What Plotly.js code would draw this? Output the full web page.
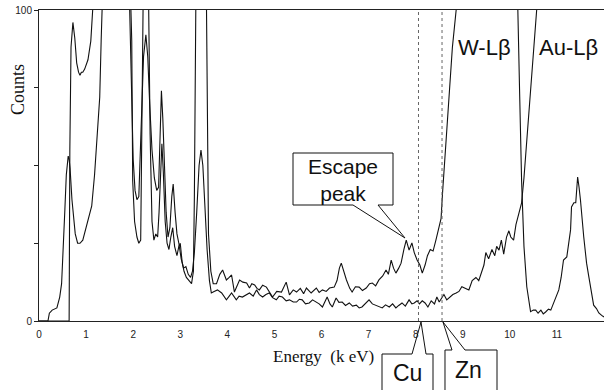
<!DOCTYPE html>
<html>
<head>
<meta charset="utf-8">
<script src="https://cdn.plot.ly/plotly-3.0.1.min.js"></script>
<style>html,body{margin:0;padding:0;background:#fff;}#chart{width:605px;height:390px;}</style>
</head>
<body>
<div id="chart"></div>
<script>
// Spectrum A (W / Au sample: escape peak, off-scale 8.9-10.1 keV, Au-Lβ at 11.44 keV)
const energyA = [0,0.64,0.655,0.68,0.72,0.76,0.80,0.84,0.87,0.90,
0.93,0.97,1.04,1.10,1.14,1.20,1.90,1.95,1.97,1.99,
2.03,2.08,2.12,2.16,2.19,2.21,2.23,2.31,2.33,2.36,
2.40,2.44,2.48,2.52,2.55,2.58,2.61,2.64,2.68,2.72,
2.76,2.80,2.84,2.88,2.93,2.97,3.00,3.04,3.08,3.13,
3.18,3.24,3.28,3.30,3.33,3.35,3.54,3.56,3.60,3.65,
3.70,3.77,3.84,3.90,3.98,4.04,4.09,4.15,4.20,4.26,
4.33,4.41,4.47,4.52,4.58,4.63,4.68,4.75,4.83,4.90,
4.96,5.05,5.15,5.25,5.32,5.40,5.47,5.55,5.62,5.68,
5.78,5.89,5.95,6.02,6.10,6.17,6.27,6.33,6.38,6.42,
6.47,6.53,6.60,6.65,6.72,6.80,6.87,6.95,7.02,7.08,
7.15,7.22,7.30,7.37,7.42,7.48,7.53,7.58,7.64,7.69,
7.75,7.80,7.86,7.92,7.97,8.03,8.09,8.14,8.20,8.25,
8.31,8.37,8.43,8.50,8.54,8.57,8.63,8.70,8.78,8.86,
8.95,10.10,10.17,10.21,10.25,10.30,10.36,10.44,10.50,10.55,
10.60,10.66,10.71,10.76,10.82,10.87,10.93,10.98,11.04,11.09,
11.14,11.21,11.26,11.29,11.31,11.36,11.40,11.44,11.47,11.50,
11.57,11.63,11.68,11.72,11.78,11.84,11.89,11.95,12.00];
const countsA = [0,0,55,88,96,91,83,80,79,80,
80,81,84,90,100,130,130,105,90,45,
32,27,25,26,60,100,130,130,100,60,
32,26,28,27,35,50,57,48,32,25,
23,27,30,24,21,24,25,19,16,14,
13,12,16,40,100,130,130,100,28,16,
12,12,15,16.4,13.2,14,14.8,9.3,11,13.2,
12.5,12.2,10.6,12,11.6,10.5,10,11.5,10.9,9,
7.7,9.5,9.3,12.5,8.4,10,9.3,10.5,8.8,10.6,
9.0,10.6,9.2,10,9.5,10.6,10.9,13,17,18.6,
16,13.2,10.5,9.3,11,10.9,9.8,10.6,12,12.2,
11.3,13.2,14.5,16.4,15,19.6,17,15.4,17,18.6,
23,26,22.8,25.1,22,19.6,18,15.4,18,21,
23,22.5,26,30,33,41,55,71,88,100,
130,130,100,72,45,24,11,3,3.5,3.5,
2.5,3.5,2.3,2.9,3.8,3.5,5.8,7.5,10,14,
19.6,20.6,26,29.3,36.7,38,38,46.3,43,38.9,
27,18.6,14,10,5.1,4,2.6,1.8,1.3];

// Spectrum B (low background, rises off-scale above 10.6 keV)
const energyB = [0,0.19,0.22,0.28,0.38,0.44,0.48,0.50,0.52,0.55,
0.58,0.60,0.62,0.64,0.66,0.70,0.74,0.77,0.82,0.87,
0.93,1.00,1.06,1.12,1.18,1.24,1.29,1.32,1.35,1.40,
1.88,1.93,1.97,2.00,2.04,2.08,2.12,2.15,2.18,2.22,
2.27,2.31,2.35,2.40,2.45,2.50,2.54,2.57,2.60,2.63,
2.67,2.70,2.74,2.78,2.82,2.85,2.89,2.93,2.97,3.02,
3.07,3.12,3.17,3.22,3.26,3.30,3.35,3.40,3.44,3.48,
3.52,3.57,3.62,3.66,3.72,3.79,3.88,3.98,4.04,4.09,
4.19,4.25,4.32,4.40,4.47,4.55,4.62,4.68,4.75,4.82,
4.89,4.96,5.04,5.10,5.17,5.25,5.32,5.40,5.47,5.53,
5.59,5.66,5.74,5.81,5.89,5.95,6.02,6.07,6.12,6.18,
6.23,6.31,6.37,6.44,6.51,6.59,6.66,6.74,6.80,6.86,
6.93,7.01,7.08,7.16,7.22,7.29,7.36,7.44,7.51,7.58,
7.64,7.71,7.78,7.86,7.92,7.97,8.03,8.08,8.14,8.20,
8.26,8.33,8.40,8.45,8.50,8.55,8.60,8.66,8.73,8.79,
8.86,8.92,8.98,9.05,9.13,9.20,9.28,9.34,9.40,9.45,
9.49,9.55,9.62,9.68,9.72,9.77,9.82,9.87,9.93,9.98,
10.02,10.08,10.13,10.19,10.25,10.30,10.36,10.42,10.47,10.52,
10.57,10.65,12.00];
const countsB = [0,0,2.5,3.5,4.2,7.7,12,18,28,36,
47,51,53,52,49,39,31,28,25,25,
26,30,33,37,47,62,72,90,110,130,
130,100,70,52,42,39,40,55,70,85,
92,85,70,55,46,42,43,60,74,65,
45,35,27,30,40,44,35,28,25,20,
17,17.5,15,14,16,22,35,50,55,50,
38,23,13,9,9.5,10,9,6.8,8,9,
6.8,8,7.7,8.5,9,8,10,8.5,7.7,8.5,
9,7.5,6.8,8,7.7,6.5,6.8,6.1,6.1,7,
6.8,5.5,5.8,6.8,6.1,5.5,4.5,6,7.7,5.5,
4.5,7.4,6,6.1,5,5.8,4.8,5.1,4.2,4.5,
5.5,6.8,5.5,5.1,4.8,4.2,5.2,4.5,5.5,4.2,
5,5.8,4.8,6.8,5.5,5.8,6.5,5.5,6.5,5.8,
4.5,6.5,5.5,7.7,6.1,7.5,8.5,6.8,7.7,8.5,
9,9.5,11,10.5,10,13,14,13,15.4,18,
22,20,23,21,24,22.8,26,21.5,27,29,
27,26,31,35,38,46,58,70,80,90,
100,120,140];

const xTickVals = [0,1,2,3,4,5,6,7,8,9,10,11,12];
const xTickText = ['0','1','2','3','4','5','6','7','8','9','10','11','12'];
const yTickVals = [0,25,50,75,100];
const yTickText = ['0','','','','100'];
const lineEnergies = {Cu: 8.06, Zn: 8.56};

// pixel -> paper helpers (plot area 39..604 x 10..321)
const PX = p => (p - 39) / 565;
const PY = p => (321 - p) / 311;
const path = (pts, closed) => pts.map((p, i) => (i ? 'L' : 'M') + PX(p[0]).toFixed(5) + ',' + PY(p[1]).toFixed(5)).join(' ') + (closed ? ' Z' : '');

const lineStyle = {color: '#111', width: 1.1};
const traces = [
  {x: energyA, y: countsA, type: 'scatter', mode: 'lines', line: lineStyle, hoverinfo: 'skip'},
  {x: energyB, y: countsB, type: 'scatter', mode: 'lines', line: lineStyle, hoverinfo: 'skip'}
];

const escPts = [[353,205],[293,205],[293,153],[393,153],[393,205],[378,205],[405,238]];
const cuPts = [[382,395],[382,354],[412,354],[421,322],[426,354],[433,354],[433,395]];
const znPts = [[445,395],[445,350],[452,350],[443,322],[465,350],[497,350],[497,395]];

const sans = 'Liberation Sans, Arial, sans-serif';
const serif = 'Liberation Serif, Times New Roman, serif';

function label(text, x, y, size, family, extra) {
  return Object.assign({text: text, xref: 'paper', yref: 'paper', x: PX(x), y: PY(y),
    xanchor: 'center', yanchor: 'middle', showarrow: false,
    font: {family: family, size: size, color: '#111'}}, extra || {});
}

const layout = {
  width: 605, height: 390,
  margin: {l: 39, r: 1, t: 10, b: 69},
  paper_bgcolor: '#fff', plot_bgcolor: '#fff',
  showlegend: false,
  xaxis: {range: [0, 12], tickvals: xTickVals, ticktext: xTickText, ticks: 'outside',
          ticklen: 4, tickcolor: 'rgba(0,0,0,0)',
          showgrid: false, zeroline: false, showline: true, mirror: true,
          linecolor: '#222', linewidth: 1,
          tickfont: {family: sans, size: 10, color: '#222'}},
  yaxis: {range: [0, 100], tickvals: yTickVals, ticktext: yTickText, ticks: 'outside',
          ticklen: 4, tickcolor: '#222', showgrid: false, zeroline: false, showline: true,
          linecolor: '#222', linewidth: 1,
          tickfont: {family: sans, size: 10, color: '#222'}},
  shapes: [
    {type: 'line', xref: 'x', yref: 'y', x0: lineEnergies.Cu, x1: lineEnergies.Cu, y0: 0, y1: 100,
     line: {color: '#666', width: 1, dash: 'dot'}},
    {type: 'line', xref: 'x', yref: 'y', x0: lineEnergies.Zn, x1: lineEnergies.Zn, y0: 0, y1: 100,
     line: {color: '#666', width: 1, dash: 'dot'}},
    {type: 'path', xref: 'paper', yref: 'paper', path: path(escPts, true), fillcolor: '#fff', line: {color: '#111', width: 1}, layer: 'above'},
    {type: 'path', xref: 'paper', yref: 'paper', path: path(cuPts, false), line: {color: '#111', width: 1}, layer: 'above'},
    {type: 'path', xref: 'paper', yref: 'paper', path: path(znPts, false), line: {color: '#111', width: 1}, layer: 'above'}
  ],
  annotations: [
    label('W-Lβ', 484.5, 47, 22, sans),
    label('Au-Lβ', 568.5, 47, 22, sans),
    label('Escape<br>peak', 343, 180, 21, sans),
    label('Cu', 407, 373, 23, sans),
    label('Zn', 468, 370, 23, sans),
    label('Counts', 18, 90, 18, serif, {textangle: -90}),
    label('Energy\u00A0\u00A0(k eV)', 323, 356, 17, serif)
  ]
};

Plotly.newPlot('chart', traces, layout, {staticPlot: true, displayModeBar: false});
</script>
</body>
</html>
